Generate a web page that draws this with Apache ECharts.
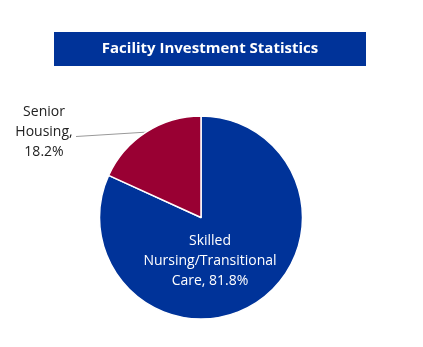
<!DOCTYPE html>
<html><head><meta charset="utf-8">
<script src="https://cdn.jsdelivr.net/npm/echarts@6/dist/echarts.min.js"></script>
<style>html,body{margin:0;padding:0;background:#fff}#c{width:423px;height:347px}</style>
</head><body><div id="c"></div>
<script>
const titleText = 'Facility Investment Statistics';
const categories = ['Skilled Nursing/Transitional Care', 'Senior Housing'];
const labelLines = [['Skilled', 'Nursing/Transitional', 'Care, '], ['Senior', 'Housing,', '']];
const values = [81.8, 18.2];
const colors = ['#003399', '#990033'];

const chart = echarts.init(document.getElementById('c'), null, {renderer: 'canvas'});
const font = 'Open Sans, Noto Sans, sans-serif';
const outPos = {x: 44, y: 132.5};
chart.setOption({
  animation: false,
  graphic: [{
    type: 'rect', shape: {x: 54, y: 32, width: 312, height: 34},
    style: {fill: '#003399'}, z: 0
  }, {
    type: 'text', x: 210, y: 49, z: 1,
    style: {text: titleText, fill: '#fff', font: 'bold 15px ' + font, textAlign: 'center', textVerticalAlign: 'middle'}
  }],
  series: [{
    type: 'pie',
    center: [201, 217.5],
    radius: [0, 101.5],
    startAngle: 90,
    clockwise: true,
    data: categories.map((c, i) => ({
      name: c, value: values[i],
      itemStyle: {color: colors[i]},
      label: i === 0 ? {position: 'inside', color: '#fff'} : {position: 'outside', color: '#222'},
      labelLine: i === 0 ? {show: false} : {show: true, length: 20, length2: 10, lineStyle: {color: '#999', width: 1}}
    })),
    itemStyle: {borderColor: '#fff', borderWidth: 1.5},
    label: {
      formatter: p => {
        const l = labelLines[p.dataIndex].slice();
        l[2] = l[2] + p.value.toFixed(1) + '%';
        return l.join('\n');
      },
      fontFamily: font, fontSize: 14, lineHeight: 20, align: 'center'
    },
    labelLayout: function (p) {
      if (p.dataIndex === 0) {
        return {x: 210, y: 261, align: 'center', verticalAlign: 'middle'};
      }
      const a = p.labelLinePoints ? p.labelLinePoints[0] : [146, 132];
      return {x: outPos.x, y: outPos.y, align: 'center', verticalAlign: 'middle',
        labelLinePoints: [a, [outPos.x + 32, outPos.y + 4]]};
    }
  }]
});
</script></body></html>
